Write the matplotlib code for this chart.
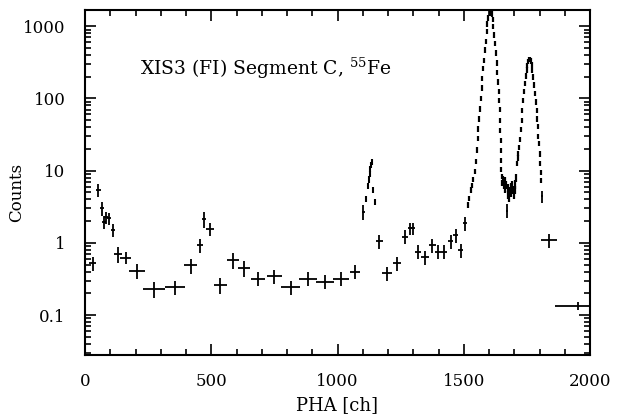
import numpy as np
import matplotlib
matplotlib.use("Agg")
import matplotlib.pyplot as plt
from matplotlib.ticker import FixedLocator, LogLocator, MultipleLocator, NullFormatter

plt.rcParams['font.family'] = 'DejaVu Serif'
plt.rcParams['mathtext.fontset'] = 'dejavuserif'

# wide bins (continuum, low-energy lines, tails)
lo_ch = [30, 53, 66, 75, 83, 94, 110, 130, 162, 206, 273, 356, 419, 455, 472, 495,
         535, 585, 631, 686, 750, 815, 884, 950, 1013, 1069, 1102, 1166, 1197, 1237,
         1267, 1287, 1300, 1320, 1347, 1375, 1399, 1422, 1448, 1468, 1489, 1505,
         1671, 1808, 1839, 1952]
lo_cnt = [0.52, 5.4, 3.0, 1.95, 2.28, 2.2, 1.51, 0.70, 0.62, 0.41, 0.23, 0.245, 0.49,
          0.94, 2.14, 1.56, 0.26, 0.58, 0.45, 0.32, 0.35, 0.243, 0.32, 0.29, 0.32,
          0.40, 2.7, 1.06, 0.38, 0.52, 1.22, 1.59, 1.59, 0.755, 0.64, 0.94, 0.755,
          0.755, 1.07, 1.28, 0.8, 1.87, 2.8, 4.4, 1.1, 0.134]
lo_hw = [13, 9, 8, 8, 8, 8, 8, 15, 22, 30, 42, 40, 26, 13, 8, 16, 26, 24, 24, 28, 30,
         38, 36, 36, 31, 21, 6, 15, 20, 16, 12, 8, 8, 12, 15, 14, 12, 12, 10, 10, 10,
         8, 3, 4, 32, 90]
lo_rel = [0.22, 0.21, 0.21, 0.19, 0.19, 0.19, 0.21, 0.24, 0.19, 0.24, 0.24, 0.22,
          0.24, 0.22, 0.25, 0.21, 0.25, 0.24, 0.24, 0.22, 0.22, 0.22, 0.22, 0.22,
          0.22, 0.22, 0.22, 0.22, 0.22, 0.22, 0.22, 0.2, 0.2, 0.22, 0.22, 0.22, 0.22,
          0.22, 0.22, 0.22, 0.22, 0.22, 0.22, 0.2, 0.22, 0.12]

# escape peak
esc_ch = [1113, 1120, 1124, 1127, 1130, 1133, 1136, 1142, 1149]
esc_cnt = [4.1, 6.2, 7.6, 9.0, 10.5, 12.0, 13.3, 5.4, 3.7]

# Mn K-alpha
ka_ch = [1516, 1522, 1527, 1532, 1538, 1543, 1547, 1551, 1555, 1558, 1562, 1565, 1568,
         1571, 1574, 1577, 1580, 1584, 1587, 1591, 1594, 1598, 1602, 1606, 1610, 1614,
         1617, 1621, 1624, 1627, 1630, 1633, 1636, 1638, 1640, 1642, 1643, 1645, 1646,
         1647, 1648, 1649, 1651, 1653]
ka_cnt = [3.35, 4.1, 5.4, 6.3, 7.5, 9.8, 13.5, 19.5, 28, 38, 52, 72, 100, 140, 190,
          260, 340, 470, 620, 850, 1080, 1300, 1500, 1600, 1480, 1250, 1000, 760, 580,
          430, 310, 230, 170, 125, 95, 70, 50, 36, 26, 19, 14, 10.5, 8.3, 6.8]

# between the lines
mid_ch = [1656, 1659, 1662, 1665, 1668, 1674, 1677, 1680, 1683, 1686, 1689, 1692,
          1695, 1698, 1701, 1704, 1707]
mid_cnt = [7.5, 6.5, 7.2, 5.6, 6.4, 4.6, 5.8, 4.3, 5.2, 6.0, 4.9, 6.3, 5.4, 4.6, 5.5,
           6.5, 8.0]

# Mn K-beta
kb_ch = [1710, 1713, 1716, 1719, 1723, 1726, 1729, 1732, 1736, 1739, 1743, 1746, 1749,
         1752, 1756, 1759, 1762, 1765, 1769, 1772, 1775, 1778, 1782, 1785, 1789, 1791,
         1793, 1796, 1798, 1800, 1802, 1804, 1806]
kb_cnt = [12.7, 15, 17.4, 21, 27, 37, 50, 68, 95, 125, 163, 205, 248, 290, 324, 345,
          350, 330, 291, 245, 200, 155, 118, 90, 69, 52, 41, 30, 24, 17, 12.7, 9.5, 7.4]

fig = plt.figure(figsize=(6.18, 4.19), dpi=100)
ax = fig.add_axes([85 / 618, 64 / 419, 505 / 618, 345 / 419])


def draw(ch, cnt, hw, rel, lw=1.3):
    cnt = np.asarray(cnt, dtype=float)
    ax.errorbar(ch, cnt, xerr=hw, yerr=cnt * np.asarray(rel), fmt='none',
                ecolor='black', elinewidth=lw, capsize=0)


draw(lo_ch, lo_cnt, lo_hw, lo_rel)
draw(esc_ch, esc_cnt, 2, 0.1, 1.5)
draw(ka_ch, ka_cnt, 1, 0.085, 1.6)
draw(mid_ch, mid_cnt, 1.5, 0.13, 1.6)
draw(kb_ch, kb_cnt, 1, 0.085, 1.6)

ax.set_yscale('log')
ax.set_xlim(0, 2000)
ax.set_ylim(0.028, 1680)

ax.xaxis.set_major_locator(MultipleLocator(500))
ax.xaxis.set_minor_locator(MultipleLocator(100))
ax.yaxis.set_major_locator(FixedLocator([0.1, 1, 10, 100, 1000]))
ax.yaxis.set_minor_locator(LogLocator(base=10, subs=np.arange(2, 10)))
ax.yaxis.set_minor_formatter(NullFormatter())
ax.set_yticklabels(['0.1', '1', '10', '100', '1000'])

ax.tick_params(which='both', direction='in', top=True, right=True, width=1.2,
               labelsize=12)
ax.tick_params(which='major', length=8)
ax.tick_params(which='minor', length=4)
ax.tick_params(axis='x', pad=13)
ax.tick_params(axis='y', pad=14)
for s in ax.spines.values():
    s.set_linewidth(1.5)

ax.set_xlabel('PHA [ch]', fontsize=13, labelpad=4)
ax.set_ylabel('Counts', fontsize=12)
ax.yaxis.set_label_coords(-0.118, 0.47)
ax.text(0.108, 0.832, 'XIS3 (FI) Segment C, $^{55}$Fe', transform=ax.transAxes,
        fontsize=13.5, va='center', ha='left')

fig.savefig('out.png', dpi=100)
